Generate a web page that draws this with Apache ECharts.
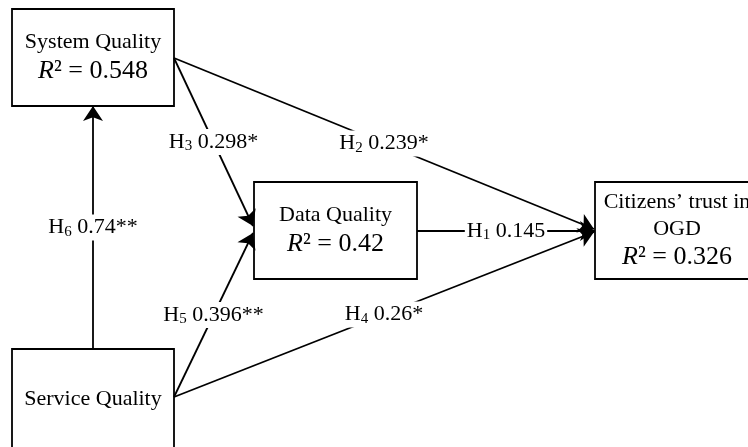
<!DOCTYPE html>
<html>
<head>
<meta charset="utf-8">
<script src="https://cdn.jsdelivr.net/npm/echarts@6/dist/echarts.min.js"></script>
<style>
  html, body { margin: 0; padding: 0; background: #fff; }
  #chart { width: 748px; height: 447px; }
</style>
</head>
<body>
<div id="chart"></div>
<script>
// constructs (boxes in diagram units = pixels)
const nodeNames = ['System Quality', 'Data Quality', 'Citizens\u2019 trust in\nOGD', 'Service Quality'];
const nodeR2 = ['0.548', '0.42', '0.326', null];
const nodeBoxes = [
    [12, 9, 174, 106],
    [254, 182, 417, 279],
    [595, 182, 759, 279],
    [12, 349, 174, 449]
];

// structural paths
const hypotheses = ['1', '2', '3', '4', '5', '6'];
const coefficients = ['0.145', '0.239*', '0.298*', '0.26*', '0.396**', '0.74**'];
const pathStart = [[417, 231], [174, 58], [174, 58], [174, 397], [174, 397], [93, 349]];
const pathEnd = [[595, 231], [594, 229], [253, 226], [594, 232], [253, 233], [93, 106]];

const FONT = '"Liberation Serif", "Times New Roman", serif';

const chart = echarts.init(document.getElementById('chart'));

const boxData = nodeBoxes.map((b, i) => [b[0], b[1], b[2], b[3], i]);
const lineData = pathStart.map((s, i) => ({ coords: [s, pathEnd[i]] }));
const labelData = pathStart.map((s, i) => [(s[0] + pathEnd[i][0]) / 2, (s[1] + pathEnd[i][1]) / 2, i]);

function boxText(i) {
    let parts = nodeNames[i].split('\n').map(t => '{n|' + t + '}');
    if (nodeR2[i]) {
        parts.push('{r|R}{v|\u00b2 = ' + nodeR2[i] + '}');
    }
    return parts.join('\n');
}

chart.setOption({
    animation: false,
    backgroundColor: '#fff',
    grid: { left: 0, right: 0, top: 0, bottom: 0 },
    xAxis: { type: 'value', min: 0, max: 748, show: false },
    yAxis: { type: 'value', min: 0, max: 447, inverse: true, show: false },
    series: [
        {
            type: 'custom',
            z: 1,
            clip: false,
            data: boxData,
            renderItem: function (params, api) {
                const p0 = api.coord([api.value(0), api.value(1)]);
                const p1 = api.coord([api.value(2), api.value(3)]);
                const i = api.value(4);
                return {
                    type: 'group',
                    children: [
                        {
                            type: 'rect',
                            shape: { x: p0[0], y: p0[1], width: p1[0] - p0[0], height: p1[1] - p0[1] },
                            style: { fill: '#fff', stroke: '#000', lineWidth: 1.8 }
                        },
                        {
                            type: 'text',
                            style: {
                                text: boxText(i),
                                x: (p0[0] + p1[0]) / 2,
                                y: (p0[1] + p1[1]) / 2,
                                align: 'center',
                                verticalAlign: 'middle',
                                fill: '#000',
                                rich: {
                                    n: { fontFamily: FONT, fontSize: 22, lineHeight: 27, fill: '#000', align: 'center' },
                                    r: { fontFamily: FONT, fontSize: 26, lineHeight: 30, fontStyle: 'italic', fill: '#000' },
                                    v: { fontFamily: FONT, fontSize: 26, lineHeight: 30, fill: '#000' }
                                }
                            }
                        }
                    ]
                };
            }
        },
        {
            type: 'lines',
            coordinateSystem: 'cartesian2d',
            z: 2,
            polyline: false,
            symbol: ['none', 'arrow'],
            symbolSize: [12, 15],
            lineStyle: { color: '#000', width: 1.8, opacity: 1, curveness: 0 },
            data: lineData
        },
        {
            type: 'scatter',
            z: 3,
            symbolSize: 1,
            itemStyle: { color: 'rgba(0,0,0,0)', opacity: 1 },
            emphasis: { disabled: true },
            data: labelData,
            label: {
                show: true,
                position: 'inside',
                backgroundColor: '#fff',
                opacity: 1,
                padding: [1, 2],
                formatter: function (p) {
                    const i = p.value[2];
                    return '{h|H}{s|' + hypotheses[i] + '}{c| ' + coefficients[i] + '}';
                },
                rich: {
                    h: { fontFamily: FONT, fontSize: 22, color: '#000', lineHeight: 24 },
                    s: { fontFamily: FONT, fontSize: 15, color: '#000', lineHeight: 24, verticalAlign: 'bottom', padding: [6, 0, 0, 0] },
                    c: { fontFamily: FONT, fontSize: 22, color: '#000', lineHeight: 24 }
                }
            }
        }
    ]
});
</script>
</body>
</html>
